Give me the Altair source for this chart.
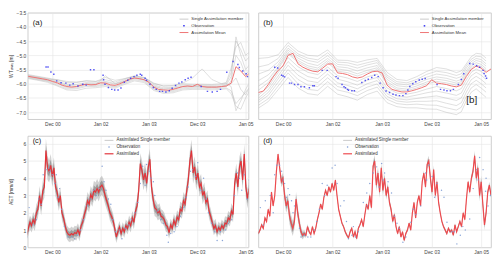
import altair as alt
import pandas as pd

# ---------------- axis ticks ----------------
X_TICKS = [0, 10, 20, 30, 40]
X_LABELS = ["Dec 00", "Jan 02", "Jan 03", "Dec 03", "Jan 05"]
WT_TICKS = [-7.0, -6.5, -6.0, -5.5, -5.0, -4.5, -4.0, -3.5]
ET_TICKS = [0, 1, 2, 3, 4, 5, 6]

# ---------------- water table (panels a, b) ----------------
WT_START = -5  # first time step, one step per unit
wt_mean_a = [-5.74, -5.77, -5.80, -5.83, -5.86, -5.92, -5.97, -6.05, -6.10, -6.12,
             -6.10, -6.05, -6.02, -6.04, -6.03, -5.97, -5.98, -6.04, -6.06, -6.00,
             -5.92, -5.84, -5.80, -5.82, -5.86, -5.95, -6.12, -6.20, -6.22, -6.23,
             -6.20, -6.15, -6.10, -6.08, -6.10, -6.02, -6.10, -6.12, -6.12, -6.12,
             -6.10, -6.08, -5.98, -5.40, -5.55, -5.75, -5.60]
wt_mean_b = [-6.31, -6.26, -6.03, -5.76, -5.53, -5.37, -5.00, -4.93, -5.30, -5.42,
             -5.50, -5.56, -5.58, -5.45, -5.31, -5.30, -5.62, -5.64, -5.68, -5.76,
             -5.80, -5.76, -5.66, -5.58, -5.56, -5.62, -6.05, -6.20, -6.25, -6.29,
             -6.29, -6.25, -6.20, -6.14, -6.07, -5.86, -5.98, -6.00, -6.03, -6.08,
             -6.11, -6.05, -5.75, -5.50, -5.38, -5.45, -5.60, -5.48]

member_x = [-5, -3, -1, 1, 3, 5, 7, 9, 11, 13, 15, 17, 19, 21, 23, 25, 27, 29, 31, 33,
            35, 36, 37, 38, 39, 40, 41]
members_a = [
    [-5.70, -5.76, -5.82, -5.90, -6.02, -6.03, -5.96, -5.97, -5.92, -5.99, -5.86, -5.75, -5.80, -6.04, -6.14, -6.13, -6.04, -6.05, -6.05, -6.06, -6.04, -6.00, -5.60, -4.50, -4.80, -5.20, -5.00],
    [-5.80, -5.86, -5.92, -6.05, -6.18, -6.18, -6.10, -6.10, -6.05, -6.12, -5.98, -5.86, -5.92, -6.20, -6.30, -6.28, -6.18, -6.16, -6.16, -6.18, -6.16, -6.15, -6.25, -6.70, -6.50, -6.30, -6.10],
    [-5.76, -5.82, -5.88, -5.93, -6.06, -6.08, -6.00, -6.00, -5.95, -6.02, -5.90, -5.78, -5.84, -6.08, -6.18, -6.16, -6.08, -6.08, -6.08, -6.10, -6.08, -6.05, -5.75, -4.35, -5.00, -5.50, -5.30],
    [-5.72, -5.78, -5.84, -5.86, -5.92, -5.94, -5.90, -5.92, -5.78, -5.88, -5.82, -5.74, -5.78, -6.00, -6.08, -6.06, -5.98, -5.80, -5.48, -5.85, -6.00, -6.00, -6.10, -6.95, -6.60, -6.20, -5.90],
    [-5.78, -5.84, -5.90, -6.00, -6.14, -6.14, -6.06, -6.06, -6.02, -6.10, -5.95, -5.82, -5.88, -6.16, -6.26, -6.24, -6.14, -6.12, -6.12, -6.14, -6.12, -6.10, -5.90, -5.00, -5.25, -5.70, -5.45],
    [-5.74, -5.80, -5.86, -5.95, -6.08, -6.10, -6.02, -6.03, -5.72, -6.00, -5.92, -5.80, -5.86, -6.10, -6.20, -6.18, -6.10, -6.10, -6.10, -6.12, -6.10, -6.08, -6.00, -5.80, -6.20, -6.40, -6.05],
    [-5.82, -5.88, -5.95, -6.08, -6.22, -6.24, -6.16, -6.14, -6.10, -6.16, -6.02, -5.90, -5.96, -6.24, -6.34, -6.32, -6.22, -6.20, -6.20, -6.22, -6.20, -6.18, -6.35, -6.80, -6.90, -6.50, -6.20],
    [-5.68, -5.74, -5.80, -5.86, -5.96, -5.96, -5.90, -5.92, -5.86, -5.94, -5.82, -5.72, -5.78, -5.98, -6.08, -6.08, -6.00, -6.02, -6.02, -6.03, -6.00, -5.95, -5.45, -4.70, -4.55, -5.00, -4.85],
]
# panel b members: deviation of each member from the assimilation mean
member_dev_b = [
    [1.20, 0.95, 0.55, 0.45, 0.45, 0.50, 0.55, 0.50, 0.45, 0.50, 0.55, 0.50, 0.45, 0.45, 0.40, 0.40, 0.45, 0.50, 0.55, 0.55, 0.50, 0.50, 0.45, 0.45, 0.45, 0.50, 0.50],
    [0.90, 0.70, 0.42, 0.35, 0.35, 0.40, 0.42, 0.40, 0.38, 0.42, 0.45, 0.40, 0.38, 0.35, 0.32, 0.32, 0.35, 0.40, 0.42, 0.42, 0.40, 0.40, 0.38, 0.36, 0.35, 0.40, 0.40],
    [0.65, 0.50, 0.30, 0.25, 0.28, 0.32, 0.33, 0.30, 0.30, 0.33, 0.35, 0.32, 0.30, 0.28, 0.25, 0.25, 0.28, 0.30, 0.32, 0.32, 0.30, 0.30, 0.30, 0.28, 0.27, 0.30, 0.30],
    [0.42, 0.34, 0.20, 0.18, 0.20, 0.22, 0.22, 0.20, 0.22, 0.24, 0.25, 0.22, 0.20, 0.20, 0.18, 0.18, 0.20, 0.22, 0.22, 0.22, 0.20, 0.20, 0.20, 0.20, 0.20, 0.22, 0.22],
    [0.22, 0.18, 0.12, 0.10, 0.12, 0.13, 0.13, 0.12, 0.14, 0.15, 0.15, 0.13, 0.12, 0.12, 0.10, 0.10, 0.12, 0.13, 0.14, 0.14, 0.13, 0.12, 0.12, 0.12, 0.12, 0.13, 0.13],
    [0.08, 0.07, 0.05, 0.05, 0.06, 0.06, 0.06, 0.05, 0.06, 0.07, 0.07, 0.06, 0.05, 0.05, 0.04, 0.04, 0.05, 0.06, 0.06, 0.06, 0.06, 0.05, 0.05, 0.05, 0.05, 0.06, 0.06],
    [-0.10, -0.08, -0.08, -0.08, -0.10, -0.10, -0.10, -0.10, -0.10, -0.12, -0.12, -0.10, -0.10, -0.10, -0.08, -0.08, -0.10, -0.12, -0.12, -0.14, -0.14, -0.12, -0.12, -0.10, -0.10, -0.12, -0.12],
    [-0.20, -0.18, -0.20, -0.22, -0.25, -0.25, -0.24, -0.22, -0.22, -0.25, -0.25, -0.22, -0.22, -0.20, -0.18, -0.18, -0.20, -0.25, -0.28, -0.30, -0.30, -0.28, -0.25, -0.22, -0.22, -0.25, -0.25],
    [-0.28, -0.28, -0.30, -0.35, -0.40, -0.40, -0.38, -0.35, -0.35, -0.38, -0.38, -0.34, -0.33, -0.30, -0.28, -0.28, -0.32, -0.40, -0.45, -0.48, -0.48, -0.45, -0.40, -0.36, -0.36, -0.40, -0.40],
    [-0.35, -0.38, -0.42, -0.50, -0.55, -0.55, -0.52, -0.48, -0.48, -0.50, -0.50, -0.46, -0.45, -0.40, -0.36, -0.36, -0.42, -0.55, -0.62, -0.66, -0.66, -0.62, -0.55, -0.50, -0.50, -0.55, -0.55],
    [-0.45, -0.50, -0.55, -0.62, -0.70, -0.70, -0.66, -0.62, -0.60, -0.62, -0.62, -0.58, -0.56, -0.50, -0.45, -0.45, -0.52, -0.68, -0.78, -0.82, -0.82, -0.78, -0.70, -0.65, -0.65, -0.70, -0.70],
    [-0.55, -0.60, -0.68, -0.78, -0.85, -0.85, -0.82, -0.78, -0.75, -0.78, -0.78, -0.72, -0.70, -0.62, -0.56, -0.56, -0.65, -0.82, -0.92, -0.98, -0.98, -0.94, -0.85, -0.80, -0.80, -0.88, -0.88],
]
obs_a = [(-1.3, -5.41), (-0.9, -5.41), (-0.3, -5.59), (0.3, -5.67), (0.9, -5.90), (1.8, -5.97),
         (2.8, -5.98), (3.6, -6.05), (4.3, -6.00), (5.3, -6.08), (6.3, -6.02), (7.0, -6.05),
         (7.9, -5.51), (8.6, -5.51), (10.5, -5.70), (10.6, -5.86), (10.9, -6.02), (11.6, -6.13),
         (12.3, -6.20), (12.9, -6.22), (13.6, -6.22), (14.2, -6.15), (14.9, -5.95), (15.6, -5.88),
         (16.2, -5.81), (16.9, -5.75), (17.5, -5.70), (18.2, -5.67), (18.5, -5.70), (19.2, -5.81),
         (19.5, -5.88), (20.2, -6.02), (20.9, -6.13), (21.5, -6.20), (22.2, -6.27), (22.8, -6.27),
         (23.5, -6.29), (24.2, -6.25), (24.8, -6.16), (25.5, -6.06), (26.2, -5.98), (26.8, -5.94),
         (27.5, -5.86), (28.1, -5.81), (28.7, -5.77), (30.8, -6.10), (32.1, -6.27), (33.1, -6.29),
         (34.1, -6.27), (34.8, -6.20), (36.1, -5.60), (37.4, -5.22), (38.4, -5.32), (38.7, -5.43),
         (39.4, -5.55), (40.1, -5.65), (40.4, -5.75)]
obs_b = [(-1.7, -5.42), (-1.1, -5.45), (-0.3, -5.70), (0.0, -5.73), (0.3, -5.76), (1.3, -5.98),
         (1.7, -5.98), (2.3, -6.03), (3.0, -6.03), (3.6, -6.11), (4.3, -6.11), (5.3, -6.14),
         (6.0, -6.07), (6.3, -6.07), (7.9, -5.53), (8.9, -5.53), (10.7, -5.75), (11.1, -5.81),
         (11.9, -6.03), (12.3, -6.11), (12.6, -6.14), (13.0, -6.20), (13.2, -6.23), (13.9, -6.25),
         (14.4, -6.25), (15.9, -5.96), (16.6, -5.89), (17.2, -5.84), (17.9, -5.78), (18.5, -5.70),
         (19.2, -5.75), (19.6, -5.98), (20.2, -6.14), (20.8, -6.26), (21.5, -6.31), (22.2, -6.37),
         (22.8, -6.40), (23.5, -6.42), (24.2, -6.42), (24.8, -6.35), (25.2, -6.22), (25.6, -6.10),
         (26.2, -6.00), (26.8, -5.93), (27.5, -5.87), (28.1, -5.84), (28.7, -5.82), (31.1, -6.03),
         (31.8, -6.20), (32.5, -6.22), (33.1, -6.25), (33.8, -6.25), (34.4, -6.20), (35.4, -6.03),
         (36.0, -5.85), (36.5, -5.65), (37.7, -5.29), (38.4, -5.31), (39.1, -5.37), (39.7, -5.42),
         (40.4, -5.53), (40.6, -5.64), (40.9, -5.73), (41.1, -5.81)]

# ---------------- actual ET (panels c, d) ----------------
ET_STEP = 0.331
ET_START_C = -5.3
ET_START_D = -5.0
et_mean_c = [0.7, 1.1, 1.45, 1.26, 1.6, 1.4, 2.0, 2.2, 3.0, 2.4,
             3.25, 3.5, 5.6, 4.6, 4.4, 4.75, 4.1, 4.6, 3.5, 3.2,
             2.6, 3.0, 2.0, 1.7, 1.26, 0.9, 0.75, 0.7, 0.8, 0.72,
             0.85, 0.8, 1.0, 0.75, 1.26, 1.45, 1.9, 2.2, 2.7, 2.5,
             3.05, 2.85, 3.3, 3.2, 3.4, 3.2, 3.5, 3.6, 3.4, 3.0,
             2.7, 2.4, 2.0, 1.8, 1.55, 1.1, 0.6, 0.9, 1.17, 0.8,
             1.1, 0.9, 1.26, 1.1, 1.45, 1.26, 1.7, 1.45, 2.1, 2.4,
             3.3, 4.85, 4.47, 3.9, 4.3, 3.7, 4.66, 5.1, 3.5, 2.8,
             2.3, 2.2, 2.0, 2.1, 1.8, 1.75, 1.6, 1.3, 1.2, 0.85,
             1.3, 1.1, 1.55, 1.3, 1.75, 1.6, 2.2, 2.1, 2.7, 2.5,
             3.25, 3.9, 5.0, 5.6, 4.3, 4.66, 3.9, 4.3, 3.5, 3.7,
             3.0, 3.25, 2.6, 2.8, 2.1, 1.8, 1.45, 1.1, 1.26, 0.9,
             1.15, 1.0, 1.26, 1.1, 1.4, 1.36, 1.7, 1.6, 2.1, 1.9,
             3.7, 4.3, 3.5, 4.66, 5.0, 3.9, 5.4, 3.5, 2.8, 3.4, 2.6]
et_spread_c = [0.35, 0.4, 0.4, 0.4, 0.45, 0.45, 0.5, 0.5, 0.55, 0.55, 0.6,
               0.65, 0.7, 0.7, 0.65, 0.65, 0.6, 0.6, 0.55,
               0.55, 0.5, 0.5, 0.45, 0.45, 0.4,
               0.4, 0.4, 0.4, 0.4, 0.4, 0.4, 0.4, 0.4, 0.4, 0.4, 0.4,
               0.45, 0.45, 0.5, 0.5, 0.5, 0.5, 0.55, 0.55, 0.55, 0.55, 0.55, 0.55, 0.55,
               0.5, 0.5, 0.45, 0.45, 0.45, 0.4, 0.4, 0.35,
               0.35, 0.35, 0.35, 0.35, 0.35, 0.35, 0.35, 0.4, 0.4, 0.4, 0.4, 0.45, 0.45,
               0.5, 0.6, 0.6, 0.6, 0.6, 0.6, 0.6, 0.6, 0.55,
               0.5, 0.5, 0.45, 0.45, 0.45, 0.4, 0.4, 0.4, 0.4, 0.35, 0.35,
               0.35, 0.35, 0.4, 0.4, 0.4, 0.4, 0.45, 0.45, 0.5, 0.5, 0.5, 0.55,
               0.6, 0.65, 0.6, 0.6, 0.6, 0.55, 0.55, 0.55, 0.5, 0.5, 0.5,
               0.5, 0.45, 0.45, 0.4, 0.4, 0.4, 0.35, 0.35, 0.35, 0.35, 0.35, 0.4, 0.4, 0.4, 0.4, 0.45, 0.45,
               0.5, 0.55, 0.55, 0.6, 0.6, 0.6, 0.6, 0.55, 0.55, 0.5, 0.5]
et_mean_d = [0.8, 1.0, 1.3, 1.1, 1.7, 1.5, 2.2, 1.8, 3.2, 2.4,
             3.0, 4.4, 5.4, 4.6, 3.8, 4.0, 3.0, 2.4, 2.7, 1.8,
             1.4, 1.1, 1.5, 2.8, 2.0, 1.4, 0.9, 0.7, 0.8, 0.7,
             1.2, 0.9, 0.75, 1.2, 0.8, 1.1, 1.6, 2.0, 2.5, 2.2,
             2.9, 3.3, 3.0, 3.5, 3.2, 3.7, 3.3, 3.9, 3.0, 2.2,
             1.8, 1.4, 1.2, 0.9, 0.7, 0.55, 0.9, 1.1, 0.6, 0.9,
             0.5, 1.1, 1.3, 1.6, 1.2, 1.9, 2.5, 2.2, 3.0, 2.3,
             4.7, 5.0, 3.6, 4.3, 3.2, 4.6, 3.3, 4.0, 3.0, 3.5,
             2.6, 2.2, 1.5, 1.9, 1.2, 0.8, 1.2, 0.6, 0.9, 0.4,
             0.8, 1.0, 1.4, 1.0, 2.0, 2.6, 1.7, 2.6, 3.0, 2.4,
             3.8, 4.3, 3.5, 4.8, 5.0, 4.0, 3.2, 4.5, 3.0, 3.8,
             2.6, 2.0, 1.5, 1.2, 1.0, 0.8, 1.1, 0.9, 1.0, 0.7,
             1.3, 0.9, 1.2, 1.5, 1.2, 2.0, 1.6, 2.8, 3.8, 3.2,
             4.0, 4.4, 5.3, 4.0, 4.6, 3.0, 3.8, 2.5, 1.3, 2.0,
             3.2, 3.6, 3.0]
et_spread_d = [0.1, 0.1, 0.1, 0.1, 0.1, 0.1, 0.1, 0.1, 0.1, 0.1, 0.1, 0.1, 0.1,
               0.2, 0.3, 0.35, 0.4, 0.4, 0.4, 0.45, 0.45, 0.45, 0.4, 0.4, 0.4, 0.35, 0.3, 0.25, 0.2, 0.15, 0.15,
               0.1, 0.1, 0.1, 0.1, 0.1, 0.1, 0.1, 0.1, 0.1, 0.1, 0.1, 0.1, 0.1, 0.1, 0.1, 0.1, 0.1, 0.1,
               0.1, 0.1, 0.1, 0.1, 0.1, 0.1, 0.1, 0.1, 0.1, 0.1, 0.1, 0.1, 0.1, 0.1, 0.1, 0.1, 0.1, 0.1,
               0.1,
               0.15, 0.2, 0.3, 0.35, 0.35, 0.35, 0.35, 0.3, 0.3, 0.3, 0.25, 0.25, 0.2, 0.2, 0.15, 0.15, 0.1,
               0.1, 0.1, 0.1, 0.1, 0.1, 0.1, 0.1, 0.1, 0.1, 0.1, 0.1, 0.1, 0.1, 0.1, 0.1, 0.1,
               0.15, 0.2, 0.25, 0.3, 0.3, 0.3, 0.25, 0.25, 0.2, 0.15,
               0.1, 0.1, 0.1, 0.1, 0.1, 0.1, 0.1, 0.1, 0.1, 0.1, 0.1, 0.1, 0.1, 0.1, 0.1, 0.1, 0.1, 0.1,
               0.15, 0.2, 0.25, 0.3, 0.35, 0.35, 0.35, 0.35, 0.3, 0.3, 0.25, 0.2, 0.2, 0.15]
obs_c = [(-5.2, 0.6), (-4.8, 2.3), (-4.0, 1.3), (-3.3, 1.6), (-2.8, 2.8), (-2.3, 2.5), (-1.9, 4.2),
         (-1.3, 4.5), (-0.8, 4.6), (-0.5, 4.4), (0.0, 4.2), (0.5, 3.7), (0.8, 4.2), (1.2, 2.9),
         (1.5, 3.4), (1.9, 2.2), (2.5, 1.2), (3.2, 0.6), (4.0, 0.6), (4.6, 0.5), (5.2, 0.7),
         (5.8, 1.0), (6.5, 1.6), (7.2, 2.4), (7.8, 2.8), (8.5, 3.3), (9.1, 3.0), (9.8, 3.4),
         (10.3, 4.7), (10.7, 3.8), (11.1, 3.3), (11.6, 2.8), (12.1, 2.5), (12.5, 1.6), (13.1, 0.9),
         (13.8, 1.0), (14.4, 0.5), (15.1, 1.1), (15.8, 1.3), (16.4, 1.6), (17.1, 2.0), (17.7, 2.6),
         (18.2, 3.7), (18.7, 4.7), (19.2, 3.6), (19.5, 4.8), (20.0, 4.4), (20.4, 4.0), (20.9, 3.8),
         (21.2, 3.0), (21.7, 2.1), (22.4, 1.6), (23.0, 1.4), (23.7, 0.7), (24.0, 0.3), (24.5, 0.8),
         (25.2, 0.9), (25.8, 1.2), (26.5, 1.8), (27.2, 2.3), (27.7, 2.9), (28.1, 3.5), (28.6, 4.4),
         (29.0, 4.5), (29.7, 4.1), (30.1, 4.9), (30.8, 3.3), (31.3, 4.0), (31.8, 2.8), (32.3, 2.0),
         (33.0, 1.4), (33.6, 0.9), (34.1, 0.4), (34.8, 0.9), (35.2, 0.4), (35.8, 1.0), (36.4, 1.4),
         (37.1, 1.6), (37.7, 3.0), (38.3, 4.3), (38.7, 4.0), (39.2, 3.3), (39.7, 4.2), (40.3, 2.8),
         (40.7, 3.9)]
obs_d = [(-4.6, 2.3), (-4.0, 1.3), (-3.6, 2.7), (-2.6, 3.0), (-2.0, 2.0), (-1.7, 4.2), (-1.3, 4.75),
         (-0.7, 4.75), (-0.3, 4.4), (0.0, 3.9), (0.3, 3.7), (0.7, 2.9), (1.0, 3.4), (1.3, 3.05),
         (1.7, 2.7), (2.0, 2.0), (2.3, 2.4), (3.3, 1.1), (3.6, 0.6), (4.3, 0.7), (5.0, 0.6),
         (5.6, 0.6), (6.3, 1.0), (6.8, 1.5), (7.3, 2.2), (7.9, 3.7), (8.4, 3.0), (8.9, 3.6),
         (9.9, 4.6), (10.5, 4.75), (10.9, 3.7), (11.6, 2.4), (12.3, 2.7), (12.8, 1.5), (13.2, 0.5),
         (13.9, 0.7), (14.2, 1.2), (14.6, 0.6), (15.2, 0.9), (16.2, 2.6), (16.9, 3.15), (17.0, 2.4),
         (17.5, 3.7), (18.2, 4.3), (18.9, 4.66), (19.4, 3.5), (19.9, 4.85), (20.2, 3.9), (20.5, 4.3),
         (21.2, 3.8), (21.9, 3.15), (22.5, 1.8), (23.0, 1.4), (23.5, 1.1), (24.2, 0.3), (24.8, 0.6),
         (25.8, 1.45), (26.3, 2.2), (26.8, 1.9), (27.8, 2.4), (28.8, 4.3), (29.0, 3.9), (29.5, 4.75),
         (30.1, 4.1), (30.6, 2.9), (31.1, 3.7), (32.0, 3.3), (32.5, 2.9), (33.1, 1.45), (34.1, 0.9),
         (34.6, 0.9), (35.1, 0.2), (35.8, 0.7), (36.3, 1.2), (36.8, 1.0), (37.7, 1.64), (38.4, 3.4),
         (39.1, 4.5), (39.4, 3.9), (39.7, 5.2), (40.4, 4.5), (40.9, 3.25), (41.0, 4.0), (41.4, 2.4),
         (41.9, 3.0)]

# ---------------- build tables ----------------
df_mean_a = pd.DataFrame({"x": [WT_START + i for i in range(len(wt_mean_a))], "y": wt_mean_a})
df_mean_b = pd.DataFrame({"x": [WT_START + i for i in range(len(wt_mean_b))], "y": wt_mean_b})
rows = []
for k, vals in enumerate(members_a):
    for xv, yv in zip(member_x, vals):
        rows.append({"x": xv, "y": yv, "m": k})
df_mem_a = pd.DataFrame(rows)
mean_b_at = dict(zip(df_mean_b["x"], df_mean_b["y"]))
rows = []
for k, devs in enumerate(member_dev_b):
    for xv, dv in zip(member_x, devs):
        rows.append({"x": xv, "y": mean_b_at[xv] + dv, "m": k})
df_mem_b = pd.DataFrame(rows)
df_obs_a = pd.DataFrame(obs_a, columns=["x", "y"])
df_obs_b = pd.DataFrame(obs_b, columns=["x", "y"])


def et_table(start, means, spreads):
    recs = []
    for i, (mv, sv) in enumerate(zip(means, spreads)):
        recs.append({"x": round(start + ET_STEP * i, 3), "y": mv,
                     "lo": max(mv - sv, 0), "hi": mv + sv,
                     "lo2": max(mv - sv / 2, 0), "hi2": mv + sv / 2})
    return pd.DataFrame(recs)


df_et_c = et_table(ET_START_C, et_mean_c, et_spread_c)
df_et_d = et_table(ET_START_D, et_mean_d, et_spread_d)
df_obs_c = pd.DataFrame(obs_c, columns=["x", "y"])
df_obs_d = pd.DataFrame(obs_d, columns=["x", "y"])

# ---------------- encodings ----------------
LABEL_EXPR = " : ".join(f"datum.value == {v} ? '{l}'" for v, l in zip(X_TICKS, X_LABELS)) + " : ''"
GRID = "#e4e4e4"
DOM_L = [-5.1, 40.6]
DOM_R = [-5.0, 42.0]
WT_DOM = [-7.25, -3.5]
ET_DOM = [0, 6.45]
W_L, W_R, H_T, H_B = 224, 236, 108, 113


def xenc(dom):
    return alt.X("x:Q", scale=alt.Scale(domain=dom, nice=False, zero=False),
                 axis=alt.Axis(values=X_TICKS, labelExpr=LABEL_EXPR, title=None, ticks=False,
                               domain=False, labelFontSize=5, labelPadding=2, labelFlush=False,
                               labelColor="#444", gridColor=GRID, gridWidth=0.6))


def yenc(field, dom, ticks, title, show, fmt):
    if show:
        ax = alt.Axis(values=ticks, format=fmt, title=title, ticks=False, domain=False,
                      labelFontSize=5, labelPadding=2, labelColor="#444", titleFontSize=5,
                      titlePadding=2, titleColor="#333", titleFontWeight="normal",
                      gridColor=GRID, gridWidth=0.6, minExtent=12, maxExtent=12)
    else:
        ax = alt.Axis(values=ticks, labels=False, ticks=False, domain=False, title=None,
                      gridColor=GRID, gridWidth=0.6, minExtent=0, maxExtent=0)
    return alt.Y(f"{field}:Q", scale=alt.Scale(domain=dom, nice=False, zero=False), axis=ax)


def legend_layers(x0, y0, dy, labels, fs, obs_color, obs_shape, red_color, red_w):
    base = alt.Chart(pd.DataFrame({"k": [0]}))
    out = [
        base.mark_rule(color="#c4c4c4", strokeWidth=0.9).encode(
            x=alt.value(x0 - 12), x2=alt.value(x0 - 3), y=alt.value(y0)),
        base.mark_point(shape=obs_shape, filled=True, size=2.5, color=obs_color, opacity=1).encode(
            x=alt.value(x0 - 7.5), y=alt.value(y0 + dy)),
        base.mark_rule(color=red_color, strokeWidth=red_w).encode(
            x=alt.value(x0 - 12), x2=alt.value(x0 - 3), y=alt.value(y0 + 2 * dy)),
    ]
    for j, lab in enumerate(labels):
        out.append(base.mark_text(align="left", baseline="middle", fontSize=fs, color="#333").encode(
            x=alt.value(x0), y=alt.value(y0 + j * dy), text=alt.value(lab)))
    return out


def panel_label(txt, x, y, fs=8):
    return alt.Chart(pd.DataFrame({"k": [0]})).mark_text(
        align="left", baseline="middle", fontSize=fs, color="#222").encode(
        x=alt.value(x), y=alt.value(y), text=alt.value(txt))


WT_TITLE = "WTₗₑᵥₑₗ [m]"
ET_TITLE = "AET [mm/d]"
WT_LEG = ["Single Assimilation member", "Observation", "Assimilation Mean"]
ET_LEG = ["Assimilated Single member", "Observation", "Assimilated"]


def wt_panel(df_mem, df_mean, df_obs, dom, show, width, label, leg_x, extra=None):
    ye = lambda f: yenc(f, WT_DOM, WT_TICKS, WT_TITLE, show, ".1f")
    layers = [
        alt.Chart(df_mem).mark_line(color="#b4b4b4", strokeWidth=0.7, opacity=0.6, clip=True).encode(
            x=xenc(dom), y=ye("y"), detail="m:N"),
        alt.Chart(df_mean).mark_line(color="#ef7474", strokeWidth=1.0, clip=True).encode(
            x=xenc(dom), y=ye("y")),
        alt.Chart(df_obs).mark_point(shape="square", filled=True, size=2.2, color="#3a3af2",
                                     opacity=0.85, clip=True).encode(x=xenc(dom), y=ye("y")),
    ]
    layers += legend_layers(leg_x, 6.5, 6.8, WT_LEG, 4.3, "#3a3af2", "square", "#ef7474", 1.0)
    layers.append(panel_label(label, 5, 10))
    if extra is not None:
        layers.append(extra)
    return alt.layer(*layers).properties(width=width, height=H_T)


def et_panel(df_et, df_obs, dom, show, width, label, leg_x, red):
    ye = lambda f: yenc(f, ET_DOM, ET_TICKS, ET_TITLE, show, "d")
    layers = [
        alt.Chart(df_et).mark_area(color="#8f8f8f", opacity=0.4, clip=True).encode(
            x=xenc(dom), y=ye("lo"), y2="hi:Q"),
        alt.Chart(df_et).mark_area(color="#4f4f4f", opacity=0.4, clip=True).encode(
            x=xenc(dom), y=ye("lo2"), y2="hi2:Q"),
        alt.Chart(df_et).mark_line(color=red, strokeWidth=1.2, clip=True).encode(
            x=xenc(dom), y=ye("y")),
        alt.Chart(df_obs).mark_circle(size=2.2, color="#7d9bd4", opacity=0.9, clip=True).encode(
            x=xenc(dom), y=ye("y")),
    ]
    layers += legend_layers(leg_x, 4.5, 6.8, ET_LEG, 4.5, "#7d9bd4", "circle", red, 1.2)
    layers.append(panel_label(label, 5, 5, 7.5))
    return alt.layer(*layers).properties(width=width, height=H_B)


b_tag = panel_label("[b]", W_R - 25, 89, 10)

pa = wt_panel(df_mem_a, df_mean_a, df_obs_a, DOM_L, True, W_L, "(a)", W_L - 58)
pb = wt_panel(df_mem_b, df_mean_b, df_obs_b, DOM_R, False, W_R, "(b)", W_R - 60, b_tag)
pc = et_panel(df_et_c, df_obs_c, DOM_L, True, W_L, "(c)", 90, "#e3343a")
pd_ = et_panel(df_et_d, df_obs_d, DOM_R, False, W_R, "(d)", 98, "#ee4a4e")

chart = alt.vconcat(
    alt.hconcat(pa, pb, spacing=10, bounds="flush"),
    alt.hconcat(pc, pd_, spacing=10, bounds="flush"),
    spacing=8,
).properties(padding=0).configure(
    font="Liberation Sans", background="white"
).configure_view(stroke="#c2c2c2", strokeWidth=0.8)

chart.save("out.html", embed_options={"renderer": "svg", "actions": False})
